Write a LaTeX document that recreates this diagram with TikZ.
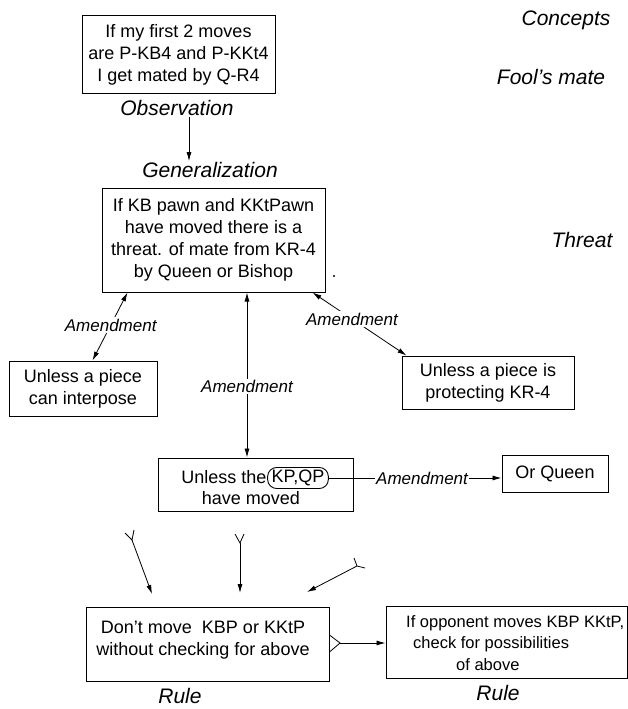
\documentclass[tikz,border=0pt]{standalone}
\usepackage{fontspec}
\setmainfont{Liberation Sans}
\usetikzlibrary{arrows.meta,calc}
\begin{document}
\begin{tikzpicture}[x=1pt,y=-1pt,
  box/.style={draw,line width=1pt,inner sep=0pt,align=center,font=\fontsize{18}{22}\selectfont},
  txt/.style={inner sep=0pt,align=center,font=\fontsize{18}{22}\selectfont},
  lab/.style={inner sep=1pt,font=\fontsize{21}{24}\selectfont\itshape},
  amd/.style={fill=white,inner sep=1.5pt,font=\fontsize{17}{20}\selectfont\itshape},
  conn/.style={line width=0.8pt},
  tip/.style={-{Latex[length=9pt,width=5pt]}},
  both/.style={{Latex[length=9pt,width=5pt]}-{Latex[length=9pt,width=5pt]}},
  oval/.style={draw,line width=0.9pt,rounded corners=9pt,minimum height=21pt,inner xsep=4pt,inner ysep=0pt,font=\fontsize{18}{20}\selectfont}
  ]
\useasboundingbox (0,0) rectangle (628,709);

% side concepts
\node[lab] (concepts) at (566,20) {Concepts};
\node[lab] (fool) at (551,77) {Fool's mate};
\node[lab] (threat) at (582,240) {Threat};

% observation
\node[box,minimum width=193pt,minimum height=77pt] (obsbox) at (178.5,54.5)
  {If my first 2 moves\\are P-KB4 and P-KKt4\\I get mated by Q-R4};
\node[lab] (obs) at (177,108) {Observation};
\node[lab] (gen) at (210,170) {Generalization};
\draw[conn,tip] ([xshift=12pt]obs.south) -- ([xshift=-21pt]gen.north);

% generalization box
\node[box,minimum width=223pt,minimum height=104pt] (gbox) at (213.5,240)
  {If KB pawn and KKtPawn\\have moved there is a\\threat. of mate from KR-4\\by Queen or Bishop};
\fill (334,276) circle (1.2pt);

% amendment boxes
\node[box,minimum width=148pt,minimum height=55pt] (ibox) at (83,388.5)
  {Unless a piece\\can interpose};
\node[box,minimum width=172pt,minimum height=53pt] (pbox) at (488,382.5)
  {Unless a piece is\\protecting KR-4};

\draw[conn,both] ([xshift=26pt]gbox.south west) -- node[amd,pos=0.48] {Amendment} ([xshift=84pt]ibox.north west);
\draw[conn,both] ([xshift=-13pt]gbox.south east) -- node[amd,pos=0.42] {Amendment} ([xshift=5pt]pbox.north west);

% KP QP box
\node[draw,line width=1pt,minimum width=195pt,minimum height=53pt] (kbox) at (255.5,484.5) {};
\node[txt] (unl) at (224,477) {Unless the};
\node[oval] (kq) at (298,478) {KP,QP};
\node[txt] (hm) at (251,498) {have moved};

\draw[conn,both] ([xshift=33.5pt]gbox.south) -- node[amd,pos=0.57] {Amendment} ([xshift=-8.5pt]kbox.north);

\node[box,minimum width=106pt,minimum height=37pt] (qbox) at (555,473.5) {Or Queen};
\draw[conn,tip] (kq.east) -- node[amd,pos=0.54] {Amendment} (kq.east -| qbox.west);

% Y-shaped incoming arrows
\coordinate (y1) at (132,540);
\coordinate (y1a) at (125,533);
\coordinate (y1b) at (134,530);
\coordinate (e1) at (152,594);
\draw[conn] (y1a) -- (y1) -- (y1b);
\draw[conn,tip] (y1) -- (e1);

\coordinate (y2) at (240,543);
\coordinate (y2a) at (235,534);
\coordinate (y2b) at (244,534);
\coordinate (e2) at (240,593);
\draw[conn] (y2a) -- (y2) -- (y2b);
\draw[conn,tip] (y2) -- (e2);

\coordinate (y3) at (357,566);
\coordinate (y3a) at (354,558);
\coordinate (y3b) at (365,568);
\coordinate (e3) at (307,592);
\draw[conn] (y3a) -- (y3) -- (y3b);
\draw[conn,tip] (y3) -- (e3);

% rules
\node[draw,line width=1pt,minimum width=243pt,minimum height=74pt] (rbox) at (207.5,644) {};
\node[txt] (rtxt) at (203,640) {Don't move\ \ KBP or KKtP\\without checking for above};
\node[lab,inner sep=0pt] (rule1) at (180,696) {Rule};

\node[draw,line width=1pt,minimum width=241pt,minimum height=72pt] (obox) at (506.5,642) {};
\node[txt,anchor=west,align=left,font=\fontsize{16.5}{21.5}\selectfont] (otxt) at (406,643)
  {If opponent moves KBP KKtP,\\\hspace*{7pt}check for possibilities\\\hspace*{50pt}of above};
\node[lab,inner sep=0pt] (rule2) at (498,693) {Rule};

\coordinate (fk) at (340,643);
\draw[conn] ([yshift=9pt]rbox.east) -- (fk) -- ([yshift=-8pt]rbox.east);
\draw[conn,tip] (fk) -- (fk -| obox.west);
\end{tikzpicture}
\end{document}
